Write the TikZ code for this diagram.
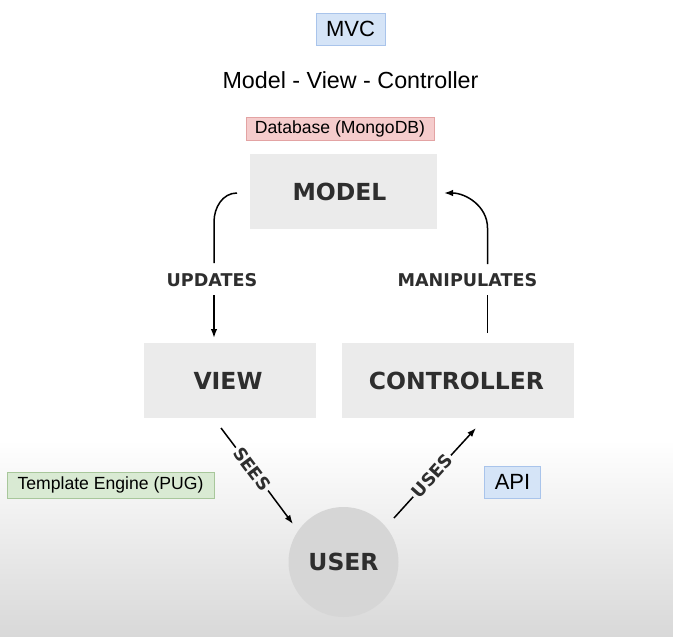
\documentclass[tikz,border=0pt]{standalone}
\usepackage{fontspec}
\setmainfont{Liberation Sans}
\newfontfamily\lblfont{DejaVu Sans}
\usetikzlibrary{arrows.meta}
\definecolor{boxgray}{HTML}{EBEBEB}
\definecolor{txtgray}{HTML}{2E2E2E}
\definecolor{bluefill}{HTML}{D5E4F7}
\definecolor{blueedge}{HTML}{A9C4EB}
\definecolor{redfill}{HTML}{F5CCCC}
\definecolor{rededge}{HTML}{E3A3A3}
\definecolor{greenfill}{HTML}{D9EAD3}
\definecolor{greenedge}{HTML}{A8C79B}
\definecolor{usergray}{HTML}{D6D6D6}
\definecolor{bgbottom}{HTML}{D8D8D8}
\tikzset{
  mvcbox/.style={fill=boxgray, draw=none, minimum width=#1, minimum height=75pt, inner sep=0pt,
    text=txtgray, font=\lblfont\bfseries\fontsize{23.5}{26}\selectfont},
  tagbox/.style={inner sep=0pt, minimum height=#1, line width=1pt},
  edgelbl/.style={text=txtgray, font=\lblfont\bfseries\fontsize{17.6}{20}\selectfont, inner sep=3pt},
  conn/.style={line width=1.5pt, black},
  tip/.style={-{Latex[length=9pt,width=6.5pt]}}
}
\begin{document}
\begin{tikzpicture}[x=1pt,y=-1pt]
\useasboundingbox (0,0) rectangle (673,637);
\fill[white] (0,0) rectangle (673,637);
\shade[top color=white, bottom color=bgbottom] (0,440) rectangle (673,637);

% title elements
\node[tagbox=32pt, minimum width=69pt, fill=bluefill, draw=blueedge, font=\fontsize{22}{24}\selectfont] (mvc) at (350.5,29) {MVC};
\node[font=\fontsize{23.3}{26}\selectfont, inner sep=0pt] (subtitle) at (350.5,80) {Model - View - Controller};
\node[tagbox=23pt, minimum width=188pt, fill=redfill, draw=rededge, font=\fontsize{17.6}{20}\selectfont] (db) at (340,128.5) {Database (MongoDB)};

% main boxes
\node[mvcbox=187pt] (model) at (343.5,191.5) {MODEL\kern8pt};
\node[mvcbox=172pt] (view) at (230,380.5) {VIEW\kern4pt};
\node[mvcbox=232pt] (ctrl) at (458,380.5) {CONTROLLER\kern3pt};
\node[circle, fill=usergray, draw=none, minimum size=110pt, inner sep=0pt, text=txtgray,
      font=\lblfont\bfseries\fontsize{23.5}{26}\selectfont] (user) at (343.5,562) {USER};

% side tags
\node[tagbox=26pt, minimum width=207pt, fill=greenfill, draw=greenedge, font=\fontsize{17.6}{20}\selectfont] (pug) at (110.5,485) {Template Engine (PUG)};
\node[tagbox=32pt, minimum width=56pt, fill=bluefill, draw=blueedge, font=\fontsize{22}{24}\selectfont] (api) at (512.5,482) {API};

% UPDATES
\node[edgelbl] (upd) at (212,280) {UPDATES};
\coordinate (u0) at (237,193);
\coordinate (u1) at (214,222);
\coordinate (u2) at (214,263);
\coordinate (u3) at (214,295);
\coordinate (u4) at (214,338);
\draw[conn] (u0) to[out=180, in=90] (u1) -- (u2);
\draw[conn, tip] (u3) -- (u4);

% MANIPULATES
\node[edgelbl] (man) at (467.5,280) {MANIPULATES};
\coordinate (m0) at (487.5,333);
\coordinate (m1) at (487.5,295);
\coordinate (m2) at (487.5,264);
\coordinate (m3) at (487.5,228);
\coordinate (m4) at (444,193);
\draw[conn] (m0) -- (m1);
\draw[conn, tip] (m2) -- (m3) to[out=90, in=0] (m4);

% SEES
\coordinate (s0) at (221,428);
\coordinate (s1) at (293,524);
\node[edgelbl, rotate=-53, inner sep=2pt] (sees) at (252,469) {SEES};
\draw[conn] (s0) -- (sees);
\draw[conn, tip] (sees) -- (s1);

% USES
\coordinate (us0) at (394,518);
\coordinate (us1) at (476,428);
\node[edgelbl, rotate=48, inner sep=2pt] (uses) at (432,476) {USES};
\draw[conn] (us0) -- (uses);
\draw[conn, tip] (uses) -- (us1);
\end{tikzpicture}
\end{document}
